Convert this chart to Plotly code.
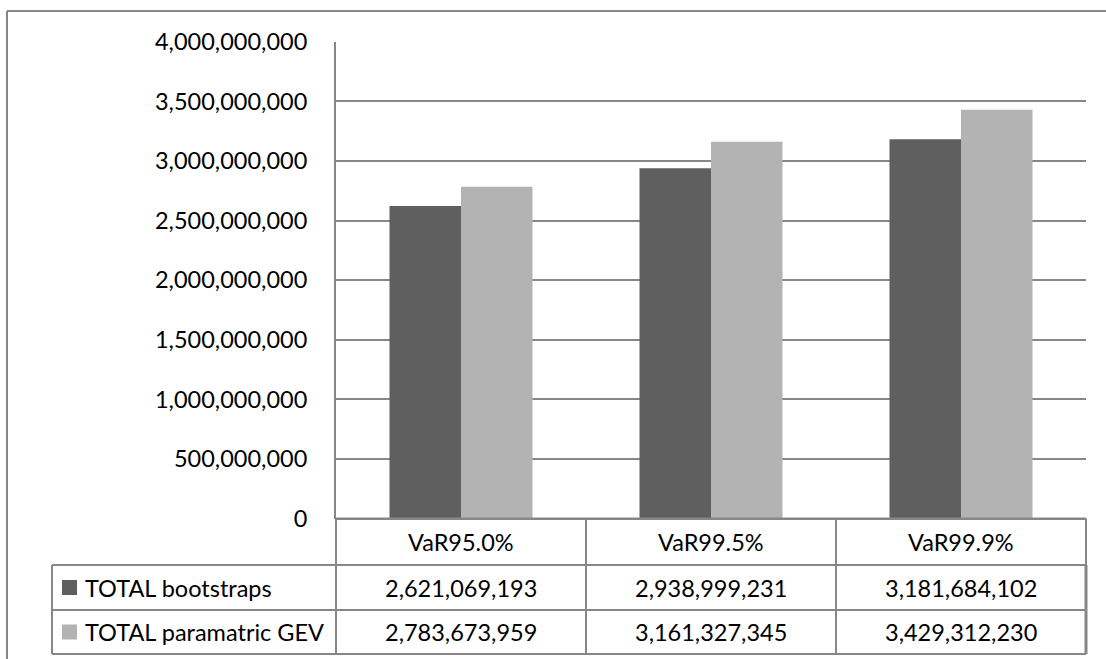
import plotly.graph_objects as go

# Quantile levels and the two VaR estimates for each
categories = ["VaR95.0%", "VaR99.5%", "VaR99.9%"]
series_names = ["TOTAL bootstraps", "TOTAL paramatric GEV"]
bootstraps = [2621069193, 2938999231, 3181684102]
parametric_gev = [2783673959, 3161327345, 3429312230]
y_ticks = [0, 500000000, 1000000000, 1500000000, 2000000000,
           2500000000, 3000000000, 3500000000, 4000000000]

W, H = 1106, 659
FONT = "Lato"
FS = 23.5
GRID = "#878787"
DARK = "#5f5f5f"
LIGHT = "#b3b3b3"

# pixel geometry of the plot area and the data table below it
x0, x1 = 336, 1086
y_top, y_zero = 41.7, 518.5
row_lines = [518.5, 565, 610, 654]
legend_left = 52


def px(x):
    return x / W


def py(y):
    return 1 - y / H


fig = go.Figure()
fig.add_trace(go.Bar(x=categories, y=bootstraps, name=series_names[0],
                     marker=dict(color=DARK, line=dict(width=0))))
fig.add_trace(go.Bar(x=categories, y=parametric_gev, name=series_names[1],
                     marker=dict(color=LIGHT, line=dict(width=0))))

shapes = []


def line(xa, ya, xb, yb, w=2, c=GRID):
    shapes.append(dict(type="line", xref="paper", yref="paper",
                       x0=px(xa), y0=py(ya), x1=px(xb), y1=py(yb),
                       line=dict(color=c, width=w)))


# outer chart frame (continues past the visible area)
line(7, 11, 1120, 11)
line(7, 11, 7, 700)

# data table grid
col_w = (x1 - x0) / len(categories)
cols = [x0 + i * col_w for i in range(len(categories) + 1)]
line(x0, row_lines[0], x1, row_lines[0])
for yy in row_lines[1:]:
    line(legend_left, yy, x1, yy)
for xx in cols:
    line(xx, row_lines[0], xx, row_lines[-1])
line(legend_left, row_lines[1], legend_left, row_lines[-1])
line(x1, row_lines[1], x1, row_lines[-1], w=3)

annotations = []
# category header row
for i, cat in enumerate(categories):
    annotations.append(dict(xref="paper", yref="paper",
                            x=px(cols[i] + col_w / 2),
                            y=py((row_lines[0] + row_lines[1]) / 2),
                            text=cat, showarrow=False,
                            font=dict(family=FONT, size=FS, color="#000"),
                            xanchor="center", yanchor="middle"))

# value rows with legend keys
for r, (name, vals, col) in enumerate(zip(series_names,
                                          [bootstraps, parametric_gev],
                                          [DARK, LIGHT])):
    yc = (row_lines[r + 1] + row_lines[r + 2]) / 2
    shapes.append(dict(type="rect", xref="paper", yref="paper",
                       x0=px(62), x1=px(77), y0=py(yc - 7.5), y1=py(yc + 7.5),
                       fillcolor=col, line=dict(width=0)))
    annotations.append(dict(xref="paper", yref="paper", x=px(83), y=py(yc),
                            text=name, showarrow=False,
                            font=dict(family=FONT, size=FS, color="#000"),
                            xanchor="left", yanchor="middle"))
    for i, v in enumerate(vals):
        annotations.append(dict(xref="paper", yref="paper",
                                x=px(cols[i] + col_w / 2), y=py(yc),
                                text=f"{v:,}", showarrow=False,
                                font=dict(family=FONT, size=FS, color="#000"),
                                xanchor="center", yanchor="middle"))

fig.update_layout(
    width=W, height=H,
    margin=dict(l=0, r=0, t=0, b=0, pad=0, autoexpand=False),
    paper_bgcolor="white", plot_bgcolor="white",
    barmode="group", bargap=0.428, bargroupgap=0,
    showlegend=False,
    shapes=shapes, annotations=annotations,
    xaxis=dict(domain=[px(x0), px(x1)], showticklabels=False,
               automargin=False,
               showgrid=False, zeroline=False, showline=False, ticks=""),
    yaxis=dict(domain=[py(y_zero), py(y_top)], range=[0, 4000000000],
               automargin=False,
               tickvals=y_ticks, tickformat=",d", ticks="",
               ticklabelstandoff=22,
               tickfont=dict(family=FONT, size=FS, color="#000"),
               showgrid=True, gridcolor=GRID, gridwidth=2,
               zeroline=True, zerolinecolor=GRID, zerolinewidth=2,
               showline=True, linecolor=GRID, linewidth=2),
)

fig.write_html("out.html")
